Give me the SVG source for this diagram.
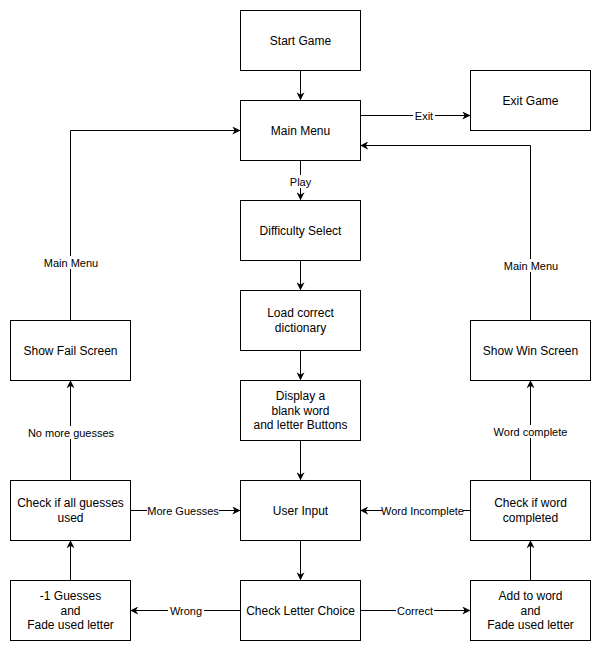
<svg xmlns="http://www.w3.org/2000/svg" width="601" height="651" viewBox="0 0 601 651">
  <style>
    .box { fill: #ffffff; stroke: #000000; stroke-width: 1; }
    .txt { font-family: "Liberation Sans", Arial, sans-serif; font-size: 12px; fill: #000000; text-anchor: middle; dominant-baseline: central; }
    .edge { fill: none; stroke: #000000; stroke-width: 1; marker-end: url(#arrow); }
    .lbl { font-family: "Liberation Sans", Arial, sans-serif; font-size: 11px; fill: #000000; text-anchor: middle; dominant-baseline: central; }
    .lblbg { fill: #ffffff; }
  </style>
  <defs>
    <marker id="arrow" viewBox="0 0 10 10" refX="9" refY="5" markerWidth="8" markerHeight="8" markerUnits="userSpaceOnUse" orient="auto">
      <path d="M0,0 L10,5 L0,10 L3,5 Z" fill="#000000"/>
    </marker>
  </defs>
  <rect width="601" height="651" fill="#ffffff"/>

  <g id="connectors">
    <path class="edge" d="M300.5,70.5 V99.5"/>
    <path class="edge" d="M360.5,115.5 H469.5"/>
    <path class="edge" d="M530.5,320.5 V145.5 H361"/>
    <path class="edge" d="M70.5,320.5 V130.5 H239.5"/>
    <path class="edge" d="M300.5,160.5 V199.5"/>
    <path class="edge" d="M300.5,260.5 V289.5"/>
    <path class="edge" d="M300.5,350.5 V379.5"/>
    <path class="edge" d="M300.5,440.5 V479.5"/>
    <path class="edge" d="M300.5,540.5 V579.5"/>
    <path class="edge" d="M240.5,610.5 H131"/>
    <path class="edge" d="M360.5,610.5 H469.5"/>
    <path class="edge" d="M530.5,580.5 V541"/>
    <path class="edge" d="M470.5,510.5 H361"/>
    <path class="edge" d="M530.5,480.5 V381"/>
    <path class="edge" d="M70.5,580.5 V541"/>
    <path class="edge" d="M130.5,510.5 H239.5"/>
    <path class="edge" d="M70.5,480.5 V381"/>

    <rect class="lblbg" x="413" y="109" width="22" height="13"/>
    <text class="lbl" x="424" y="116">Exit</text>
    <rect class="lblbg" x="505" y="259" width="52" height="13"/>
    <text class="lbl" x="531" y="265.5">Main Menu</text>
    <rect class="lblbg" x="45" y="256" width="52" height="13"/>
    <text class="lbl" x="71" y="262.5">Main Menu</text>
    <rect class="lblbg" x="289" y="175" width="23" height="13"/>
    <text class="lbl" x="300.5" y="181.5">Play</text>
    <rect class="lblbg" x="168" y="604" width="36" height="13"/>
    <text class="lbl" x="186" y="610.5">Wrong</text>
    <rect class="lblbg" x="396" y="604" width="38" height="13"/>
    <text class="lbl" x="415" y="610.5">Correct</text>
    <rect class="lblbg" x="382" y="504" width="81" height="13"/>
    <text class="lbl" x="422.5" y="511">Word Incomplete</text>
    <rect class="lblbg" x="493" y="425" width="75" height="13"/>
    <text class="lbl" x="530.5" y="431.5">Word complete</text>
    <rect class="lblbg" x="147" y="504" width="72" height="13"/>
    <text class="lbl" x="183" y="510.5">More Guesses</text>
    <rect class="lblbg" x="28" y="426" width="86" height="13"/>
    <text class="lbl" x="71" y="432.5">No more guesses</text>
  </g>

  <g id="start-game"><rect class="box" x="240.5" y="10.5" width="120" height="60"/><text class="txt" x="300.5" y="40.5">Start Game</text></g>
  <g id="main-menu"><rect class="box" x="240.5" y="100.5" width="120" height="60"/><text class="txt" x="300.5" y="130.5">Main Menu</text></g>
  <g id="exit-game"><rect class="box" x="470.5" y="70.5" width="120" height="60"/><text class="txt" x="530.5" y="100.5">Exit Game</text></g>
  <g id="difficulty-select"><rect class="box" x="240.5" y="200.5" width="120" height="60"/><text class="txt" x="300.5" y="230.5">Difficulty Select</text></g>
  <g id="load-dictionary"><rect class="box" x="240.5" y="290.5" width="120" height="60"/><text class="txt" x="300.5" y="313">Load correct</text><text class="txt" x="300.5" y="327.5">dictionary</text></g>
  <g id="display-blank"><rect class="box" x="240.5" y="380.5" width="120" height="60"/><text class="txt" x="300.5" y="396">Display a</text><text class="txt" x="300.5" y="410.5">blank word</text><text class="txt" x="300.5" y="425">and letter Buttons</text></g>
  <g id="user-input"><rect class="box" x="240.5" y="480.5" width="120" height="60"/><text class="txt" x="300.5" y="510.5">User Input</text></g>
  <g id="check-letter"><rect class="box" x="240.5" y="580.5" width="120" height="60"/><text class="txt" x="300.5" y="610.5">Check Letter Choice</text></g>
  <g id="show-fail"><rect class="box" x="10.5" y="320.5" width="120" height="60"/><text class="txt" x="70.5" y="350.5">Show Fail Screen</text></g>
  <g id="check-guesses"><rect class="box" x="10.5" y="480.5" width="120" height="60"/><text class="txt" x="70.5" y="503">Check if all guesses</text><text class="txt" x="70.5" y="517.5">used</text></g>
  <g id="minus-guess"><rect class="box" x="10.5" y="580.5" width="120" height="60"/><text class="txt" x="70.5" y="596">-1 Guesses</text><text class="txt" x="70.5" y="610.5">and</text><text class="txt" x="70.5" y="625">Fade used letter</text></g>
  <g id="show-win"><rect class="box" x="470.5" y="320.5" width="120" height="60"/><text class="txt" x="530.5" y="350.5">Show Win Screen</text></g>
  <g id="check-word"><rect class="box" x="470.5" y="480.5" width="120" height="60"/><text class="txt" x="530.5" y="503">Check if word</text><text class="txt" x="530.5" y="517.5">completed</text></g>
  <g id="add-to-word"><rect class="box" x="470.5" y="580.5" width="120" height="60"/><text class="txt" x="530.5" y="596">Add to word</text><text class="txt" x="530.5" y="610.5">and</text><text class="txt" x="530.5" y="625">Fade used letter</text></g>
</svg>
